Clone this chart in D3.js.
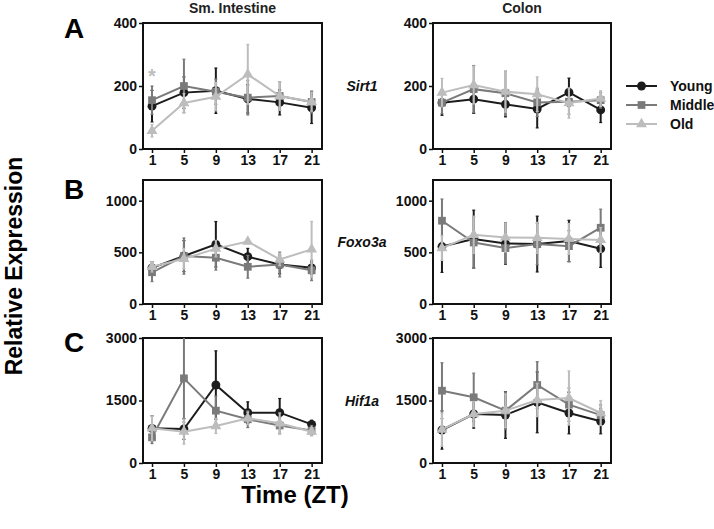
<!DOCTYPE html>
<html><head><meta charset="utf-8">
<script src="https://cdn.jsdelivr.net/npm/d3@7"></script>
<style>
body{margin:0;background:#fff;}
text{font-family:"Liberation Sans",Arial,sans-serif;}
</style></head>
<body><svg id="chart" width="714" height="529"></svg>
<script>
// ---- data ----
const timePoints = [1, 5, 9, 13, 17, 21];
const groups = ["Young", "Middle", "Old"];
const tissues = ["Sm. Intestine", "Colon"];
const genes = ["Sirt1", "Foxo3a", "Hif1a"];
const panelLetters = ["A", "B", "C"];
const yTicksSirt1 = [0, 200, 400];
const yTicksFoxo3a = [0, 500, 1000];
const yTicksHif1a = [0, 1500, 3000];
const yMaxByGene = [400, 1200, 3000];

// Sirt1 - small intestine
const sirt1SI_young = [136, 179, 185, 159, 148, 131];
const sirt1SI_youngErr = [50, 50, 72, 45, 40, 50];
const sirt1SI_middle = [155, 200, 182, 163, 168, 149];
const sirt1SI_middleErr = [45, 85, 40, 55, 45, 35];
const sirt1SI_old = [58, 146, 166, 237, 168, 150];
const sirt1SI_oldErr = [20, 30, 45, 95, 45, 30];
// Sirt1 - colon
const sirt1CO_young = [147, 158, 142, 127, 180, 124];
const sirt1CO_youngErr = [40, 45, 40, 60, 45, 40];
const sirt1CO_middle = [147, 190, 177, 148, 150, 155];
const sirt1CO_middleErr = [35, 75, 70, 45, 40, 25];
const sirt1CO_old = [179, 203, 182, 174, 146, 160];
const sirt1CO_oldErr = [45, 60, 65, 55, 48, 25];
// Foxo3a - small intestine
const foxo3aSI_young = [350, 464, 578, 458, 382, 350];
const foxo3aSI_youngErr = [60, 150, 220, 80, 90, 60];
const foxo3aSI_middle = [307, 464, 448, 360, 382, 326];
const foxo3aSI_middleErr = [90, 175, 120, 110, 120, 100];
const foxo3aSI_old = [360, 438, 536, 605, 431, 529];
const foxo3aSI_oldErr = [50, 100, 80, 20, 60, 270];
// Foxo3a - colon
const foxo3aCO_young = [556, 628, 585, 580, 610, 534];
const foxo3aCO_youngErr = [250, 280, 200, 270, 200, 180];
const foxo3aCO_middle = [806, 595, 541, 580, 560, 738];
const foxo3aCO_middleErr = [210, 250, 150, 200, 150, 180];
const foxo3aCO_old = [541, 670, 644, 640, 630, 620];
const foxo3aCO_oldErr = [120, 180, 140, 150, 150, 120];
// Hif1a - small intestine
const hif1aSI_young = [832, 816, 1872, 1208, 1208, 928];
const hif1aSI_youngErr = [300, 250, 820, 260, 340, 100];
const hif1aSI_middle = [616, 2032, 1256, 1050, 900, 780];
const hif1aSI_middleErr = [150, 1050, 350, 200, 200, 120];
const hif1aSI_old = [832, 752, 888, 1072, 952, 752];
const hif1aSI_oldErr = [300, 300, 180, 150, 250, 100];
// Hif1a - colon
const hif1aCO_young = [792, 1176, 1152, 1456, 1200, 1000];
const hif1aCO_youngErr = [460, 340, 560, 730, 500, 300];
const hif1aCO_middle = [1736, 1576, 1256, 1872, 1400, 1150];
const hif1aCO_middleErr = [670, 580, 450, 560, 400, 250];
const hif1aCO_old = [800, 1176, 1256, 1512, 1560, 1200];
const hif1aCO_oldErr = [400, 300, 400, 400, 650, 300];

// ---- assemble panels ----
const panelData = [
  [[sirt1SI_young, sirt1SI_youngErr, sirt1SI_middle, sirt1SI_middleErr, sirt1SI_old, sirt1SI_oldErr],
   [sirt1CO_young, sirt1CO_youngErr, sirt1CO_middle, sirt1CO_middleErr, sirt1CO_old, sirt1CO_oldErr]],
  [[foxo3aSI_young, foxo3aSI_youngErr, foxo3aSI_middle, foxo3aSI_middleErr, foxo3aSI_old, foxo3aSI_oldErr],
   [foxo3aCO_young, foxo3aCO_youngErr, foxo3aCO_middle, foxo3aCO_middleErr, foxo3aCO_old, foxo3aCO_oldErr]],
  [[hif1aSI_young, hif1aSI_youngErr, hif1aSI_middle, hif1aSI_middleErr, hif1aSI_old, hif1aSI_oldErr],
   [hif1aCO_young, hif1aCO_youngErr, hif1aCO_middle, hif1aCO_middleErr, hif1aCO_old, hif1aCO_oldErr]]
];
const yTicksByGene = [yTicksSirt1, yTicksFoxo3a, yTicksHif1a];

const colors = {Young: "#1c1c1c", Middle: "#7a7a7a", Old: "#bdbdbd"};
const shapes = {Young: d3.symbolCircle, Middle: d3.symbolSquare, Old: d3.symbolTriangle};
const shapeSize = {Young: 62, Middle: 60, Old: 52};

const colX = [[143, 322], [433, 611]];
const rowY = [[23, 149], [180, 304], [338, 463]];

const svg = d3.select("#chart");
const defs = svg.append("defs");

genes.forEach((gene, r) => {
  tissues.forEach((tissue, c) => {
    const [x0, x1] = colX[c];
    const [y0, y1] = rowY[r];
    const x = d3.scaleLinear().domain([-0.13, 22.3]).range([x0, x1]);
    const y = d3.scaleLinear().domain([0, yMaxByGene[r]]).range([y1, y0]);
    const clipId = `clip-${r}-${c}`;
    defs.append("clipPath").attr("id", clipId).append("rect")
      .attr("x", x0).attr("y", y0).attr("width", x1 - x0).attr("height", y1 - y0);

    const g = svg.append("g");
    // axes
    const ya = g.append("g").attr("transform", `translate(${x0},0)`)
      .call(d3.axisLeft(y).tickValues(yTicksByGene[r]).tickSize(4).tickPadding(2).tickFormat(d3.format("d")));
    const xa = g.append("g").attr("transform", `translate(0,${y1})`)
      .call(d3.axisBottom(x).tickValues(timePoints).tickSize(4).tickPadding(2));
    [ya, xa].forEach(a => {
      a.select(".domain").remove();
      a.selectAll(".tick line").attr("stroke", "#111").attr("stroke-width", 1.5);
      a.selectAll(".tick text").attr("font-size", 14).attr("font-weight", "bold").attr("fill", "#111");
    });
    // frame
    g.append("rect").attr("x", x0).attr("y", y0).attr("width", x1 - x0).attr("height", y1 - y0)
      .attr("fill", "none").attr("stroke", "#111").attr("stroke-width", 2);

    const plot = g.append("g").attr("clip-path", `url(#${clipId})`);
    const arr = panelData[r][c];
    groups.forEach((grp, gi) => {
      const vals = arr[gi * 2], errs = arr[gi * 2 + 1];
      const pts = timePoints.map((t, i) => ({t, v: vals[i], e: errs[i]}));
      const col = colors[grp];
      // error bars
      const eb = plot.append("g").attr("stroke", col).attr("stroke-width", 2);
      pts.forEach(p => {
        eb.append("line").attr("x1", x(p.t)).attr("x2", x(p.t))
          .attr("y1", y(p.v - p.e)).attr("y2", y(p.v + p.e));
        [p.v - p.e, p.v + p.e].forEach(v => eb.append("line")
          .attr("x1", x(p.t) - 1.5).attr("x2", x(p.t) + 1.5).attr("y1", y(v)).attr("y2", y(v))
          .attr("stroke-width", 1.2));
      });
      // line
      plot.append("path").datum(pts)
        .attr("d", d3.line().x(p => x(p.t)).y(p => y(p.v)))
        .attr("fill", "none").attr("stroke", col).attr("stroke-width", 2);
      // markers
      plot.selectAll(null).data(pts).enter().append("path")
        .attr("transform", p => `translate(${x(p.t)},${y(p.v)})`)
        .attr("d", d3.symbol().type(shapes[grp]).size(shapeSize[grp]))
        .attr("fill", col);
    });

    if (r === 0 && c === 0) {
      // significance asterisk
      g.append("text").attr("x", x(1)).attr("y", y(208)).attr("text-anchor", "middle")
        .attr("font-size", 20).attr("font-weight", "bold").attr("fill", colors.Old).text("*");
    }
    if (r === 0) {
      svg.append("text").attr("x", (x0 + x1) / 2).attr("y", 13).attr("text-anchor", "middle")
        .attr("font-size", 14).attr("font-weight", "bold").attr("fill", "#222").text(tissue);
    }
  });
  // gene label
  svg.append("text").attr("x", 362).attr("y", (rowY[r][0] + rowY[r][1]) / 2 + 5)
    .attr("text-anchor", "middle").attr("font-size", 14).attr("font-weight", "bold")
    .attr("font-style", "italic").attr("fill", "#111").text(gene);
  // panel letter
  svg.append("text").attr("x", 64).attr("y", rowY[r][0] + [15, 19, 14][r])
    .attr("font-size", 28).attr("font-weight", "bold").attr("fill", "#000").text(panelLetters[r]);
});

// axis titles
svg.append("text").attr("transform", "translate(22,266) rotate(-90)").attr("text-anchor", "middle")
  .attr("font-size", 23).attr("font-weight", "bold").attr("fill", "#000").text("Relative Expression");
svg.append("text").attr("x", 295).attr("y", 503).attr("text-anchor", "middle")
  .attr("font-size", 24).attr("font-weight", "bold").attr("fill", "#000").text("Time (ZT)");

// legend
const legY = [86, 105, 124];
groups.forEach((grp, i) => {
  const lg = svg.append("g");
  lg.append("line").attr("x1", 626).attr("x2", 657).attr("y1", legY[i]).attr("y2", legY[i])
    .attr("stroke", colors[grp]).attr("stroke-width", 2);
  lg.append("path").attr("transform", `translate(641.5,${legY[i]})`)
    .attr("d", d3.symbol().type(shapes[grp]).size(shapeSize[grp])).attr("fill", colors[grp]);
  lg.append("text").attr("x", 670).attr("y", legY[i] + 5).attr("font-size", 14)
    .attr("font-weight", "bold").attr("fill", "#111").text(grp);
});
</script></body></html>
